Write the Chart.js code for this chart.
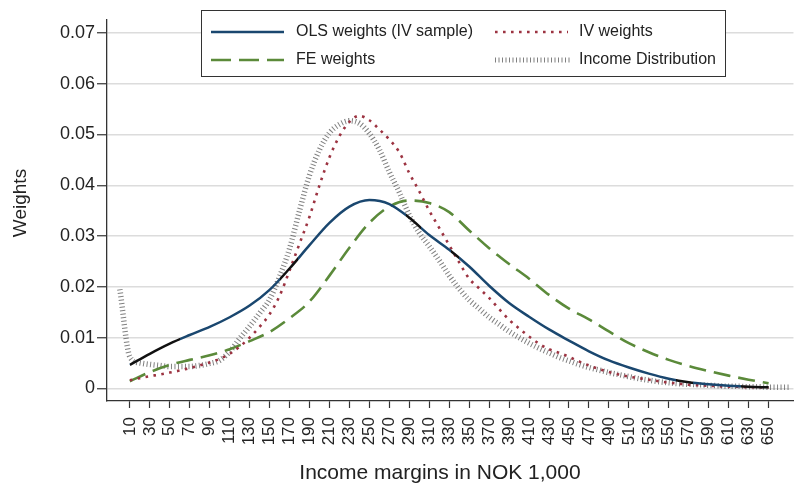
<!DOCTYPE html>
<html>
<head>
<meta charset="utf-8">
<script src="https://cdn.jsdelivr.net/npm/chart.js@4.4.1/dist/chart.umd.min.js"></script>
<style>
html,body{margin:0;padding:0;background:#fff;}
#wrap{width:798px;height:486px;}
canvas{display:block;}
</style>
</head>
<body>
<div id="wrap"><canvas id="c" width="798" height="486"></canvas></div>
<script>
// ---------------- data ----------------
const xTitle = 'Income margins in NOK 1,000';
const yTitle = 'Weights';
const seriesNames = ['OLS weights (IV sample)', 'IV weights', 'FE weights', 'Income Distribution'];

const incomeMargins = [10,30,50,70,90,110,130,150,170,190,210,230,250,270,290,310,330,350,370,390,410,430,450,470,490,510,530,550,570,590,610,630,650];
const yTickValues = [0,0.01,0.02,0.03,0.04,0.05,0.06,0.07];

const olsWeights = [0.0046,0.0068,0.0088,0.0105,0.0121,0.0140,0.0163,0.0194,0.0236,0.0282,0.0326,0.0358,0.0371,0.0363,0.0336,0.0302,0.0273,0.0240,0.0202,0.0168,0.0141,0.0116,0.0094,0.0073,0.0055,0.0041,0.0029,0.0019,0.0012,0.0008,0.0005,0.0003,0.0002];
const feWeights = [0.0014,0.0032,0.0046,0.0056,0.0065,0.0077,0.0093,0.0111,0.0138,0.0171,0.0222,0.0277,0.0326,0.0358,0.0370,0.0365,0.0347,0.0311,0.0276,0.0245,0.0216,0.0184,0.0157,0.0136,0.0112,0.0089,0.0071,0.0056,0.0044,0.0034,0.0025,0.0017,0.0010];

const ivIncome = [10,20,30,40,50,60,70,80,90,100,110,120,130,140,150,160,170,180,190,200,210,220,230,240,250,260,270,280,290,300,310,320,330,340,350,360,370,380,390,400,410,420,430,440,450,460,470,480,490,500,510,520,530,540,550,560,570,580,590,600,610,620,630,640,650];
const ivWeights = [0.0016,0.0020,0.0024,0.0027,0.0031,0.0035,0.0040,0.0045,0.0051,0.0058,
                   0.0068,0.0082,0.0100,0.0121,0.0146,0.0182,0.0232,0.0285,0.0338,0.0400,
                   0.0455,0.0497,0.0525,0.0537,0.0528,0.0510,0.0490,0.0465,0.0424,0.0388,
                   0.0350,0.0316,0.0282,0.0248,0.0216,0.0197,0.0178,0.0156,0.0135,0.0118,
                   0.0102,0.0088,0.0077,0.0070,0.0062,0.0053,0.0045,0.0038,0.0032,0.0027,
                   0.0023,0.0020,0.0017,0.0014,0.0011,0.0009,0.0007,0.0006,0.0005,0.0004,
                   0.0003,0.0003,0.0002,0.0002,0.0001];

const distIncome = [0,10,20,30,40,50,60,70,80,90,100,110,120,130,140,150,160,170,180,190,200,210,220,230,240,250,260,270,280,290,300,310,320,330,340,350,360,370,380,390,400,410,420,430,440,450,460,470,480,490,500,510,520,530,540,550,560,570,580,590,600,610,620,630,640,650,660,670];
const distShare = [0.0195,0.0062,0.0050,0.0047,0.0045,0.0043,0.0043,0.0043,0.0045,0.0049,
                   0.0055,0.0072,0.0098,0.0122,0.0148,0.0175,0.0220,0.0275,0.0350,0.0420,
                   0.0470,0.0503,0.0520,0.0527,0.0522,0.0502,0.0470,0.0426,0.0386,0.0341,
                   0.0306,0.0280,0.0252,0.0222,0.0196,0.0174,0.0157,0.0140,0.0126,0.0112,
                   0.0100,0.0089,0.0079,0.0070,0.0061,0.0054,0.0047,0.0041,0.0036,0.0031,
                   0.0027,0.0023,0.0019,0.0016,0.0013,0.0011,0.0009,0.0008,0.0007,0.0006,
                   0.0005,0.0004,0.0004,0.0003,0.0003,0.0002,0.0002,0.0002];

// income ranges where the OLS curve is drawn in black
const olsBlackRanges = [[10,60],[160,178],[287,302],[332,340],[557,574],[622,650]];

// ---------------- styles ----------------
const FONT = '"Liberation Sans", Arial, Helvetica, sans-serif';
const TEXT = '#222';
const NAVY = '#1a476f';
const MAROON = '#9c3341';
const GREEN = '#5b8a3a';
const HATCH = 'rgba(85,85,85,0.75)';

const pts = (xs, ys) => ys.map((v, i) => ({x: xs[i], y: v}));

function olsColor(ctx) {
  const chart = ctx.chart;
  const area = chart.chartArea;
  if (!area) return NAVY;
  const xs = chart.scales.x;
  const w = area.right - area.left;
  const g = chart.ctx.createLinearGradient(area.left, 0, area.right, 0);
  g.addColorStop(0, NAVY);
  olsBlackRanges.forEach(([a, b]) => {
    const fa = Math.min(1, Math.max(0, (xs.getPixelForValue(a) - area.left) / w));
    const fb = Math.min(1, Math.max(0, (xs.getPixelForValue(b) - area.left) / w));
    g.addColorStop(fa, NAVY); g.addColorStop(fa, '#111');
    g.addColorStop(fb, '#111'); g.addColorStop(fb, NAVY);
  });
  g.addColorStop(1, NAVY);
  return g;
}

const legendStyles = [
  {color: NAVY, width: 2.5, dash: []},
  {color: MAROON, width: 2.6, dash: [2.6, 5.4]},
  {color: GREEN, width: 2.6, dash: [20, 8]},
  {color: HATCH, width: 5, dash: [1, 2.5]}
];

const annotPlugin = {
  id: 'annot',
  afterDraw(chart) {
    const c = chart.ctx;
    c.save();
    // legend box
    c.fillStyle = '#fff';
    c.fillRect(201, 10, 524, 66);
    c.strokeStyle = '#333';
    c.lineWidth = 1;
    c.setLineDash([]);
    c.strokeRect(201.5, 10.5, 524, 66);
    const slots = [
      {x1: 211, x2: 284, tx: 296, y: 32},
      {x1: 495, x2: 568, tx: 579, y: 32},
      {x1: 211, x2: 284, tx: 296, y: 60},
      {x1: 495, x2: 570, tx: 579, y: 60}
    ];
    chart.data.datasets.forEach((ds, i) => {
      const s = slots[i], st = legendStyles[i];
      c.beginPath();
      c.setLineDash(st.dash);
      c.lineCap = 'butt';
      c.lineWidth = st.width;
      c.strokeStyle = st.color;
      c.moveTo(s.x1, s.y);
      c.lineTo(s.x2, s.y);
      c.stroke();
      c.setLineDash([]);
      c.fillStyle = TEXT;
      c.font = '16px ' + FONT;
      c.textAlign = 'left';
      c.textBaseline = 'middle';
      c.fillText(ds.label, s.tx, s.y);
    });
    // axis titles
    c.fillStyle = TEXT;
    c.font = '21px ' + FONT;
    c.textAlign = 'center';
    c.textBaseline = 'middle';
    c.fillText(xTitle, 440, 473);
    c.translate(21, 203);
    c.rotate(-Math.PI / 2);
    c.font = '19px ' + FONT;
    c.fillText(yTitle, 0, 0);
    c.restore();
  }
};

new Chart(document.getElementById('c'), {
  type: 'line',
  data: {
    datasets: [
      {label: seriesNames[0], data: pts(incomeMargins, olsWeights), borderColor: olsColor, borderWidth: 2.5, order: 1},
      {label: seriesNames[1], data: pts(ivIncome, ivWeights), borderColor: MAROON, borderWidth: 2.6, borderDash: [2.6, 5.4], order: 2},
      {label: seriesNames[2], data: pts(incomeMargins, feWeights), borderColor: GREEN, borderWidth: 2.6, borderDash: [17, 8], order: 3},
      {label: seriesNames[3], data: pts(distIncome, distShare), borderColor: HATCH, borderWidth: 5.5, borderDash: [1, 2.5], order: 4}
    ]
  },
  options: {
    responsive: false,
    animation: false,
    devicePixelRatio: 1,
    elements: {
      point: {radius: 0, hoverRadius: 0},
      line: {cubicInterpolationMode: 'monotone', borderCapStyle: 'butt', fill: false}
    },
    plugins: {legend: {display: false}, tooltip: {enabled: false}},
    layout: {padding: {top: 20, left: 0, right: 0, bottom: 0}},
    scales: {
      x: {
        type: 'linear', min: -12.9, max: 674.9,
        afterFit(s) { s.height = 85; },
        afterBuildTicks(s) { s.ticks = incomeMargins.map(v => ({value: v})); },
        ticks: {autoSkip: false, maxRotation: 90, minRotation: 90, padding: 9, color: TEXT,
                font: {family: FONT, size: 17}, callback: v => String(v)},
        grid: {drawOnChartArea: false, drawTicks: true, tickLength: 7, tickColor: '#333', tickWidth: 1.2},
        border: {color: '#333', width: 1.3}
      },
      y: {
        min: -0.0025, max: 0.07256,
        afterFit(s) { s.width = 107; },
        afterBuildTicks(s) { s.ticks = yTickValues.map(v => ({value: v})); },
        ticks: {padding: 2, color: TEXT, font: {family: FONT, size: 18},
                callback: v => (v === 0 ? '0' : v.toFixed(2))},
        grid: {color: '#dcdcdc', lineWidth: 1.5, tickLength: 10, tickColor: '#333', tickWidth: 1.2},
        border: {color: '#333', width: 1.3}
      }
    }
  },
  plugins: [annotPlugin]
});
</script>
</body>
</html>
